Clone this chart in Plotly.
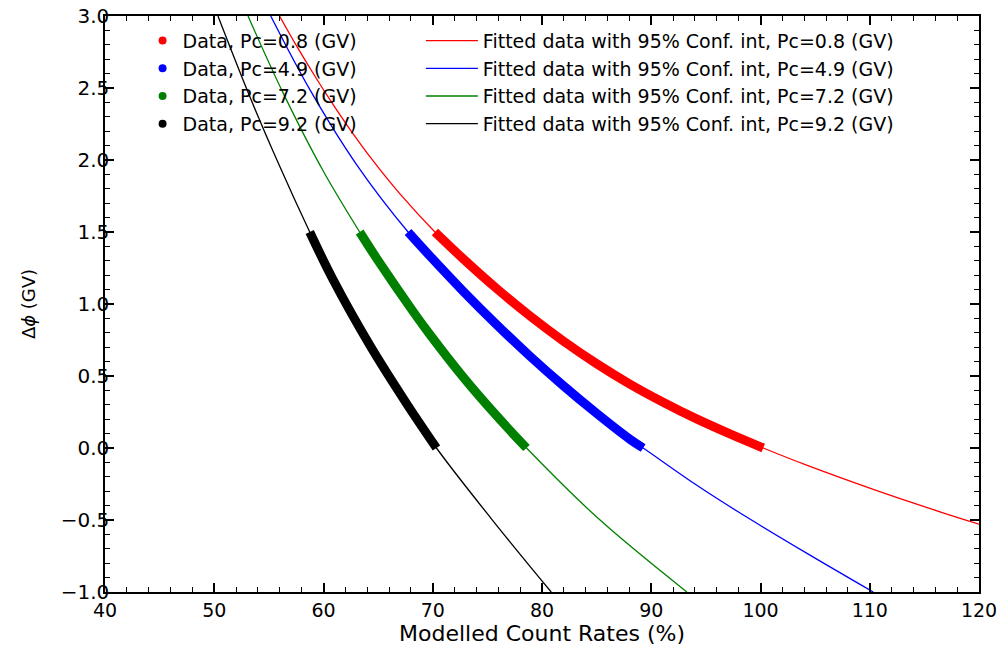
import plotly.graph_objects as go

# ---- Fitted curves ----
fit_red_x = [55.97, 57.52, 59.19, 60.72, 62.10, 64.53, 66.98, 70.2, 72.77, 75.83, 78.88, 81.93,
             84.99, 88.04, 91.09, 94.15, 97.20, 100.25, 104.22, 110.32, 116.43, 120.0]
fit_red_y = [3.0, 2.794, 2.585, 2.403, 2.248, 1.995, 1.766, 1.5, 1.315, 1.108, 0.918, 0.744,
             0.586, 0.444, 0.318, 0.202, 0.098, 0.0, -0.119, -0.287, -0.443, -0.529]

fit_blue_x = [55.17, 58.74, 63.01, 67.74, 69.72, 72.77, 75.83, 78.88, 81.93, 84.99, 88.04, 89.26,
              94.0, 98.1, 104.22, 110.32]
fit_blue_y = [3.0, 2.49, 1.97, 1.5, 1.335, 1.09, 0.858, 0.639, 0.434, 0.241, 0.061, 0.0,
              -0.25, -0.45, -0.73, -1.0]

fit_green_x = [53.09, 56.29, 59.95, 63.31, 65.15, 68.2, 69.72, 72.77, 75.83, 78.58, 85.16, 93.26]
fit_green_y = [3.0, 2.468, 1.927, 1.5, 1.284, 0.948, 0.79, 0.494, 0.225, 0.0, -0.49, -1.0]

fit_black_x = [50.34, 53.24, 55.99, 58.74, 60.87, 64.23, 67.59, 70.34, 75.35, 80.84]
fit_black_y = [3.0, 2.443, 1.956, 1.5, 1.17, 0.715, 0.31, 0.0, -0.49, -1.0]

# ---- Data segments (thick) ----
data_red_x = [70.2, 72.77, 75.83, 78.88, 81.93, 84.99, 88.04, 91.09, 94.15, 97.20, 100.25]
data_red_y = [1.5, 1.315, 1.108, 0.918, 0.744, 0.586, 0.444, 0.318, 0.202, 0.098, 0.0]

data_blue_x = [67.74, 69.72, 72.77, 75.83, 78.88, 81.93, 84.99, 88.04, 89.26]
data_blue_y = [1.5, 1.335, 1.09, 0.858, 0.639, 0.434, 0.241, 0.061, 0.0]

data_green_x = [63.31, 65.15, 68.2, 69.72, 72.77, 75.83, 78.58]
data_green_y = [1.5, 1.284, 0.948, 0.79, 0.494, 0.225, 0.0]

data_black_x = [58.74, 60.87, 64.23, 67.59, 70.34]
data_black_y = [1.5, 1.17, 0.715, 0.31, 0.0]

pc_values = ["0.8", "4.9", "7.2", "9.2"]
colors = ["#ff0000", "#0000ff", "#008000", "#000000"]

fits = [(fit_red_x, fit_red_y), (fit_blue_x, fit_blue_y),
        (fit_green_x, fit_green_y), (fit_black_x, fit_black_y)]
datas = [(data_red_x, data_red_y), (data_blue_x, data_blue_y),
         (data_green_x, data_green_y), (data_black_x, data_black_y)]

fig = go.Figure()

# thick data segments
for (dx, dy), c in zip(datas, colors):
    fig.add_trace(go.Scatter(x=dx, y=dy, mode="lines",
                             line=dict(color=c, width=9, shape="spline", smoothing=1.0),
                             showlegend=False, hoverinfo="skip"))

# thin fitted lines
for (fx, fy), c, pc in zip(fits, colors, pc_values):
    fig.add_trace(go.Scatter(x=fx, y=fy, mode="lines",
                             line=dict(color=c, width=1.3, shape="spline", smoothing=1.0),
                             name=f"Fitted data with 95% Conf. int, Pc={pc} (GV)",
                             legend="legend2"))

# legend entries for data (markers)
for c, pc in zip(colors, pc_values):
    fig.add_trace(go.Scatter(x=[None], y=[None], mode="markers",
                             marker=dict(color=c, size=8),
                             name=f"Data, Pc={pc} (GV)", legend="legend"))

axis_common = dict(
    showgrid=False, zeroline=False, showline=True, linecolor="black", linewidth=1.5,
    mirror="ticks", ticks="inside", ticklen=9, tickwidth=1.5, tickcolor="black",
    automargin=False, ticklabeloverflow="allow",
)

fig.update_layout(
    width=1004, height=650,
    margin=dict(l=105, r=25, t=16, b=58),
    plot_bgcolor="white", paper_bgcolor="white",
    font=dict(family="DejaVu Sans", color="black", size=19),
    xaxis=dict(range=[40, 120], dtick=10, tick0=40,
               minor=dict(dtick=2, ticks="inside", ticklen=5, tickcolor="black", tickwidth=1.2),
               tickfont=dict(size=19),
               title=dict(text="Modelled Count Rates (%)", font=dict(size=22), standoff=6),
               **axis_common),
    yaxis=dict(range=[-1, 3], dtick=0.5, tick0=0, tickformat=".1f",
               minor=dict(dtick=0.1, ticks="inside", ticklen=5, tickcolor="black", tickwidth=1.2),
               tickfont=dict(size=20), ticklabelstandoff=-10,
               title=dict(text="Δ<i>ϕ</i> (GV)", font=dict(size=18), standoff=20),
               **axis_common),
    legend=dict(x=0.043, y=0.99, xanchor="left", yanchor="top",
                bgcolor="rgba(0,0,0,0)", font=dict(size=19), tracegroupgap=0),
    legend2=dict(x=0.3614, y=0.99, xanchor="left", yanchor="top",
                 bgcolor="rgba(0,0,0,0)", font=dict(size=19), tracegroupgap=0,
                 itemwidth=52),
)

fig.write_html("out.html",
               config={"displayModeBar": False},
               post_script="document.body.style.margin='0';document.body.style.overflow='hidden';")
